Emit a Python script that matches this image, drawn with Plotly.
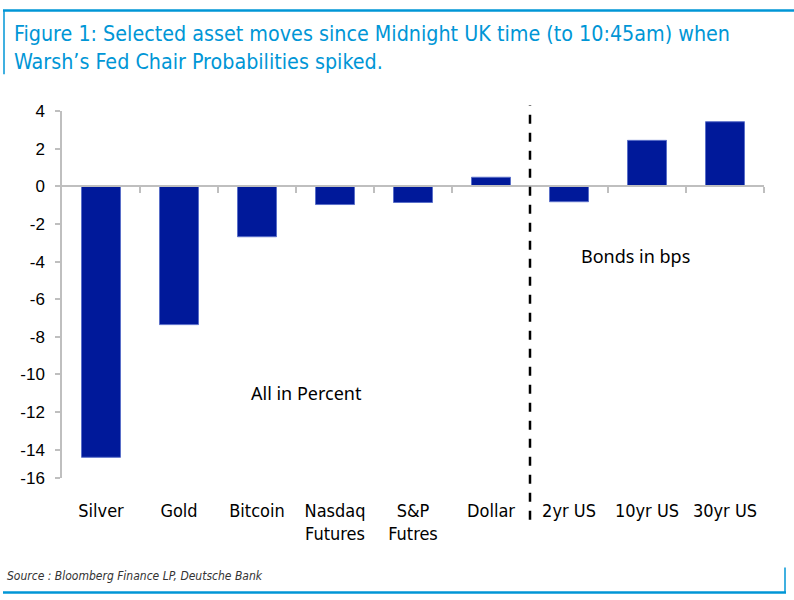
import plotly.graph_objects as go

categories = ["Silver", "Gold", "Bitcoin", "Nasdaq<br>Futures", "S&P<br>Futres",
              "Dollar", "2yr US", "10yr US", "30yr US"]
values = [-14.4, -7.35, -2.68, -0.97, -0.86, 0.48, -0.82, 2.44, 3.43]
ytick_vals = [4, 2, 0, -2, -4, -6, -8, -10, -12, -14, -15.5]
ytick_text = ["4", "2", "0", "-2", "-4", "-6", "-8", "-10", "-12", "-14", "-16"]

W, H = 794, 600
L, R, T, B = 62, 764, 110.7, 478.3

def px(x):
    return (x - L) / (R - L)

def py(y):
    return (B - y) / (B - T)

narrow = "Liberation Sans Narrow, Arial Narrow, DejaVu Sans Condensed, Liberation Sans"
blue = "#0096D6"
gray = "#BFBFBF"

fig = go.Figure()
fig.add_trace(go.Bar(
    x=list(range(len(categories))), y=values,
    marker=dict(color="#00199A", line=dict(color="#5A6FC8", width=1)),
    width=0.5, showlegend=False, hoverinfo="skip",
))

fig.update_layout(
    width=W, height=H, autosize=False,
    margin=dict(l=L, r=W - R, t=T, b=H - B, pad=0),
    paper_bgcolor="white", plot_bgcolor="white",
    xaxis=dict(range=[-0.5, 8.5], tickvals=list(range(len(categories))),
               ticktext=categories, showline=False, ticks="", showgrid=False,
               zeroline=False, tickfont=dict(family=narrow, size=18, color="#000"),
               ticklabelstandoff=20),
    xaxis2=dict(range=[-0.5, 8.5], overlaying="x", anchor="free",
                position=py(186), side="bottom", showline=True, linecolor=gray,
                linewidth=1.5, ticks="outside", ticklen=6, tickcolor=gray,
                tickwidth=1.5, tickvals=[0.5 + i for i in range(9)],
                showticklabels=False, showgrid=False, zeroline=False),
    yaxis=dict(range=[-15.5, 4], tickvals=ytick_vals, ticktext=ytick_text,
               showline=True, linecolor=gray, linewidth=1.5, ticks="outside",
               ticklen=5, tickcolor=gray, tickwidth=1.5, showgrid=False,
               zeroline=False, tickfont=dict(family="Liberation Sans, Arial", size=17, color="#000"),
               ticklabelstandoff=7),
)
# invisible trace to activate xaxis2
fig.add_trace(go.Scatter(x=[0], y=[0], xaxis="x2", mode="markers",
                         marker=dict(opacity=0), showlegend=False, hoverinfo="skip"))

shapes = []
shapes.append(dict(type="line", xref="x2", yref="paper", x0=5.5, x1=5.5,
                   y0=py(520), y1=py(105), line=dict(color="black", width=2.5, dash="dash")))
shapes.append(dict(type="line", xref="paper", yref="paper", x0=px(3), x1=px(794),
                   y0=py(10), y1=py(10), line=dict(color=blue, width=2.5)))
shapes.append(dict(type="line", xref="paper", yref="paper", x0=px(4), x1=px(4),
                   y0=py(10), y1=py(74), line=dict(color=blue, width=1.5)))
shapes.append(dict(type="line", xref="paper", yref="paper", x0=px(3), x1=px(786),
                   y0=py(593), y1=py(593), line=dict(color=blue, width=2.5)))
shapes.append(dict(type="line", xref="paper", yref="paper", x0=px(785), x1=px(785),
                   y0=py(568), y1=py(593), line=dict(color=blue, width=1.5)))
fig.update_layout(shapes=shapes)

ann = []
ann.append(dict(xref="paper", yref="paper", x=px(12), y=py(19), xanchor="left", yanchor="top",
                align="left", showarrow=False,
                text="Figure 1: Selected asset moves since Midnight UK time (to 10:45am) when<br>Warsh\u2019s Fed Chair Probabilities spiked.",
                font=dict(family=narrow, size=21.3, color=blue)))
ann.append(dict(xref="paper", yref="paper", x=px(306), y=py(393), xanchor="center", yanchor="middle",
                showarrow=False, text="All in Percent",
                font=dict(family="Noto Sans, Liberation Sans", size=18, color="#000")))
ann.append(dict(xref="paper", yref="paper", x=px(635), y=py(256), xanchor="center", yanchor="middle",
                showarrow=False, text="Bonds in bps",
                font=dict(family="Noto Sans, Liberation Sans", size=18, color="#000")))
ann.append(dict(xref="paper", yref="paper", x=px(5), y=py(576), xanchor="left", yanchor="middle",
                showarrow=False, text="<i>Source : Bloomberg Finance LP, Deutsche Bank</i>",
                font=dict(family=narrow, size=12, color="#333")))
fig.update_layout(annotations=ann)

fig.write_html("out.html", config={"displayModeBar": False},
               post_script="document.body.style.margin='0';document.body.style.overflow='hidden';")
